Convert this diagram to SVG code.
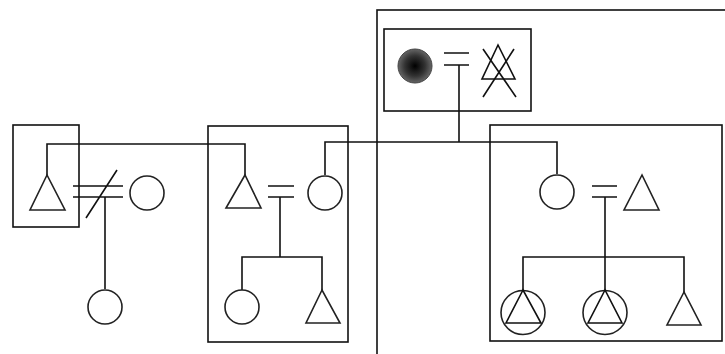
<svg xmlns="http://www.w3.org/2000/svg" width="725" height="354" viewBox="0 0 725 354">
<defs>
<radialGradient id="dark" cx="50%" cy="50%" r="50%">
<stop offset="0" stop-color="#000"/>
<stop offset="0.6" stop-color="#333"/>
<stop offset="1" stop-color="#666"/>
</radialGradient>
<style>
.ln{fill:none;stroke:#111;stroke-width:1.6}
.sh{fill:#fff;stroke:#222;stroke-width:1.6}
</style>
</defs>
<rect width="725" height="354" fill="#fff"/>
<g id="boxes">
<rect id="box-big" class="ln" x="377" y="10" width="360" height="360"/>
<rect id="box-parents" class="ln" x="384" y="29" width="147" height="82"/>
<rect id="box-left" class="ln" x="13" y="125" width="66" height="102"/>
<rect id="box-mid" class="ln" x="208" y="126" width="140" height="216"/>
<rect id="box-right" class="ln" x="490" y="125" width="232" height="216"/>
</g>
<g id="connectors" class="ln">
<path d="M444 53H469M444 65H469"/>
<path d="M459 65V142M325 175V142H557V174"/>
<path d="M47 175V144H245V175"/>
<path d="M73 186H123M73 197H123M117 170L86 218M105 197V289"/>
<path d="M268 186H294M268 197H294M280 197V257M242 290V257H322V290"/>
<path d="M592 186H617M592 197H617M605 197V290M523 290V257H684V292"/>
</g>
<g id="n-grandmother"><circle cx="415" cy="66" r="17" fill="url(#dark)" stroke="#444" stroke-width="1"/></g>
<g id="n-grandfather" class="ln"><path d="M498 45L482 79H515Z"/><path d="M483 49L516 97M514 49L483 97"/></g>
<g id="n-left-male"><path class="sh" d="M47 175L30 210H65Z"/></g>
<g id="n-left-female"><circle class="sh" cx="147" cy="193" r="17"/></g>
<g id="n-left-child"><circle class="sh" cx="105" cy="307" r="17"/></g>
<g id="n-mid-male"><path class="sh" d="M245 175L226 208H261Z"/></g>
<g id="n-mid-female"><circle class="sh" cx="325" cy="193" r="17"/></g>
<g id="n-mid-daughter"><circle class="sh" cx="242" cy="307" r="17"/></g>
<g id="n-mid-son"><path class="sh" d="M322 290L306 323H340Z"/></g>
<g id="n-right-female"><circle class="sh" cx="557" cy="192" r="17"/></g>
<g id="n-right-male"><path class="sh" d="M642 175L624 210H659Z"/></g>
<g id="n-right-child1"><circle class="sh" cx="523" cy="312.5" r="22"/><path class="ln" d="M523 290L506 323H541Z"/></g>
<g id="n-right-child2"><circle class="sh" cx="605" cy="312.5" r="22"/><path class="ln" d="M605 290L588 323H622Z"/></g>
<g id="n-right-child3"><path class="sh" d="M684 292L667 325H701Z"/></g>
</svg>
